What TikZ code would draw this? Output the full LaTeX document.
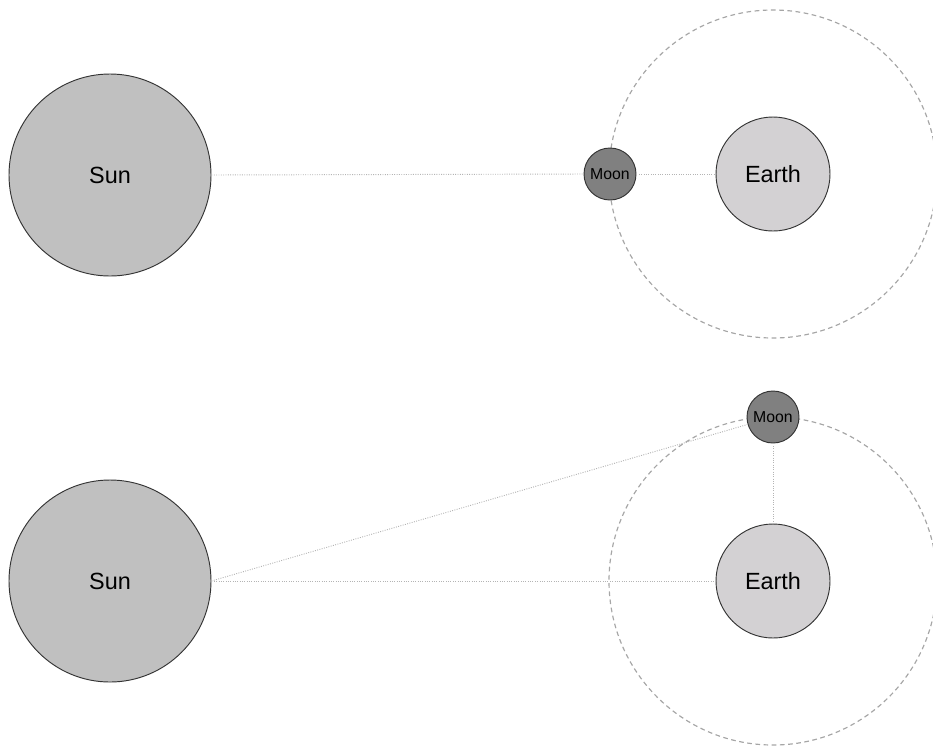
\documentclass[tikz,border=0pt]{standalone}
\usepackage{fontspec}
\setmainfont{Liberation Sans}
\definecolor{sungray}{HTML}{C0C0C0}
\definecolor{earthgray}{HTML}{D3D1D3}
\definecolor{moongray}{HTML}{808080}
\definecolor{linegray}{HTML}{B4B4B4}
\definecolor{orbitgray}{HTML}{A6A6A6}
\tikzset{
	body/.style={circle, draw=black!80, line width=0.8pt, inner sep=0pt},
	sunbody/.style={body, fill=sungray, minimum size=6.06cm, font=\fontsize{20}{22}\selectfont},
	earthbody/.style={body, fill=earthgray, minimum size=3.42cm, font=\fontsize{20}{22}\selectfont},
	moonbody/.style={body, fill=moongray, minimum size=1.56cm, font=\fontsize{13.5}{15}\selectfont},
	sightline/.style={linegray, line width=0.8pt, dash pattern=on 0.8pt off 1.2pt},
	orbit/.style={orbitgray, line width=1pt, dash pattern=on 4pt off 3pt}
}
\begin{document}
\begin{tikzpicture}[x=0.03cm, y=-0.03cm]
	\useasboundingbox (0,0) rectangle (933,746);
	% top: moon between sun and earth
	\draw[orbit] (773,174) circle[radius=164];
	\node[sunbody] (sunA) at (110,175) {Sun};
	\node[earthbody] (earthA) at (773,174) {Earth};
	\node[moonbody] (moonA) at (610,174) {Moon};
	\draw[sightline] (sunA.east) -- (moonA.west);
	\draw[sightline] (moonA.east) -- (earthA.west);
	% bottom: moon at quarter
	\draw[orbit] (773,581) circle[radius=164];
	\node[sunbody] (sunB) at (110,581) {Sun};
	\node[earthbody] (earthB) at (773,581) {Earth};
	\node[moonbody] (moonB) at (773,417) {Moon};
	\draw[sightline] (sunB.east) -- (moonB);
	\draw[sightline] (sunB.east) -- (earthB.west);
	\draw[sightline] (moonB.south) -- (earthB.north);
\end{tikzpicture}
\end{document}
